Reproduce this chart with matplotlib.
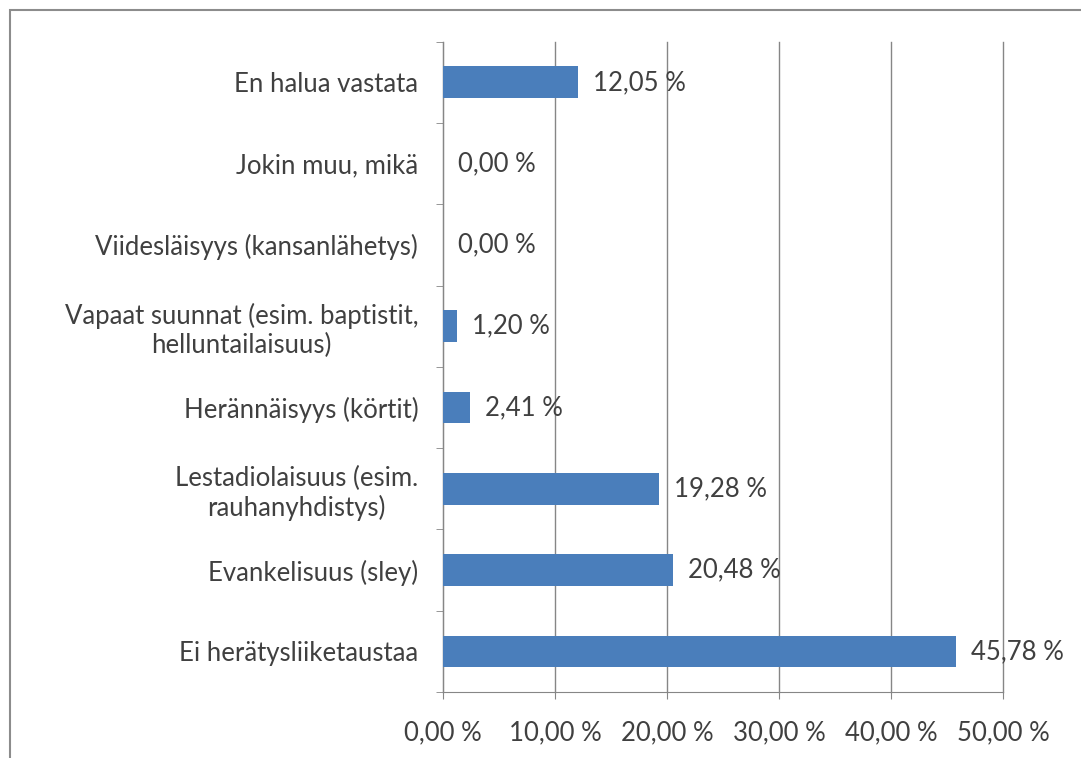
import matplotlib.pyplot as plt
import numpy as np
from matplotlib.patches import Rectangle
from matplotlib.ticker import FixedLocator

categories = ['Ei herätysliiketaustaa',
              'Evankelisuus (sley)',
              'Lestadiolaisuus (esim.\nrauhanyhdistys)',
              'Herännäisyys (körtit)',
              'Vapaat suunnat (esim. baptistit,\nhelluntailaisuus)',
              'Viidesläisyys (kansanlähetys)',
              'Jokin muu, mikä',
              'En halua vastata']
values = [45.78, 20.48, 19.28, 2.41, 1.20, 0.00, 0.00, 12.05]
x_ticks = [0, 10, 20, 30, 40, 50]


def fmt(v):
    return f'{v:.2f}'.replace('.', ',') + ' %'


plt.rcParams['font.family'] = ['Lato', 'DejaVu Sans']
text_color = '#404040'
grid_color = '#868686'
fsize = 18.5

fig = plt.figure(figsize=(10.81, 7.58), dpi=100)
ax = fig.add_axes([0.41, 0.087, 0.518, 0.858])

y = np.arange(len(categories))
ax.barh(y, values, height=0.39, color='#4A7EBB', zorder=3)

for yi, v in zip(y, values):
    ax.annotate(fmt(v), (v, yi), xytext=(11, 0), textcoords='offset points',
                va='center', ha='left', fontsize=fsize, color=text_color,
                zorder=4)

ax.set_xlim(0, 50)
ax.set_ylim(-0.5, len(categories) - 0.5)
ax.set_xticks(x_ticks)
ax.set_xticklabels([fmt(t) for t in x_ticks], fontsize=fsize, color=text_color)
ax.set_yticks(y)
ax.set_yticklabels(categories, fontsize=fsize, color=text_color,
                   multialignment='center', linespacing=1.2)
ax.yaxis.set_minor_locator(FixedLocator(np.arange(-0.5, len(categories), 1)))

ax.xaxis.grid(True, color=grid_color, linewidth=1, zorder=0)
for gl in ax.get_xgridlines():
    gl.set_clip_on(False)
ax.tick_params(axis='y', which='major', length=0, pad=18)
ax.tick_params(axis='y', which='minor', length=5, color=grid_color,
               direction='out')
ax.tick_params(axis='x', length=5, color=grid_color, pad=15)

for side in ['top', 'right']:
    ax.spines[side].set_visible(False)
for side in ['left', 'bottom']:
    ax.spines[side].set_color(grid_color)

# outer chart border
fig.patches.append(Rectangle((10 / 1081, -0.1), 1.2, 1 - 10 / 758 + 0.1,
                             transform=fig.transFigure, fill=False,
                             edgecolor='#8c8c8c', linewidth=1.5))

fig.savefig('out.png', dpi=100)
